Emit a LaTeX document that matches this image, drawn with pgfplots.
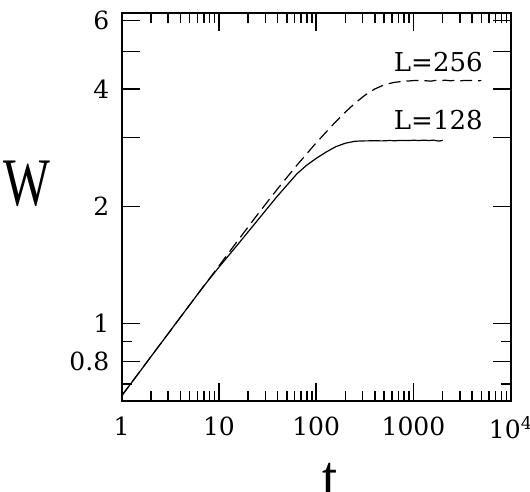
\documentclass[border=0pt]{standalone}
\usepackage{fontspec}
\usepackage{pgfplots}
\pgfplotsset{compat=1.18}
\newfontfamily\labfont{DejaVu Serif}
\newfontfamily\bigfont{Liberation Serif}

\begin{document}
\begin{tikzpicture}
\begin{axis}[
  at={(0pt,0pt)}, anchor=south west,
  scale only axis, width=389pt, height=388.3pt,
  xmode=log, ymode=log,
  xmin=1, xmax=10000, ymin=0.633, ymax=6.28,
  axis line style={line width=1.8pt},
  tick style={line width=1.5pt, black},
  major tick length=18pt, minor tick length=10pt,
  xtick={1,10,100,1000,10000},
  xticklabels={1,10,100,1000,10\textsuperscript{4}},
  minor xtick={2,3,4,5,6,7,8,9,20,30,40,50,60,70,80,90,200,300,400,500,600,700,800,900,2000,3000,4000,5000,6000,7000,8000,9000},
  ytick={0.8,1,2,3,4,5,6},
  yticklabels={0.8,1,2,,4,,6},
  minor ytick={0.7,0.9},
  tick label style={font=\labfont\fontsize{25}{29}\selectfont},
  xticklabel style={yshift=-12pt},
  yticklabel style={xshift=-9pt},
]
\addplot[black, line width=1.2pt] coordinates {
(1,0.653) (1.5,0.747) (2,0.823) (3,0.942) (4,1.037) (5,1.117) (7,1.249) (10,1.396)
(15.85,1.603) (25.12,1.845) (39.81,2.123) (63.1,2.421) (79.43,2.547) (100,2.655)
(125.9,2.754) (158.5,2.844) (199.5,2.904) (251.2,2.938) (316.2,2.944) (400,2.946)
(480,2.944) (560,2.95) (650,2.947) (750,2.953) (870,2.949) (1000,2.955) (1150,2.951)
(1300,2.957) (1450,2.95) (1600,2.958) (1750,2.945) (1850,2.94) (2000,2.955)
};
\addplot[black, line width=1.2pt, dash pattern=on 12pt off 6pt] coordinates {
(1,0.653) (1.5,0.747) (2,0.823) (3,0.942) (4,1.037) (5,1.117) (7,1.249) (10,1.406)
(15.85,1.641) (25.12,1.910) (39.81,2.213) (63.1,2.547) (100,2.911) (158.5,3.296)
(199.5,3.491) (251.2,3.681) (316.2,3.855) (398.1,3.999) (501.2,4.102) (631,4.159)
(794,4.188) (900,4.195) (1000,4.205) (1200,4.21) (1350,4.20) (1500,4.19) (1700,4.21)
(1900,4.20) (2100,4.215) (2400,4.20) (2700,4.21) (3000,4.195) (3400,4.21) (3800,4.205)
(4200,4.215) (4600,4.20) (5000,4.205)
};
\end{axis}
\node[anchor=center, inner sep=0pt] at (-94.7pt,217pt) {\bigfont\fontsize{68}{72}\selectfont\scalebox{0.73}[1]{W}};
\node[anchor=north, inner sep=0pt] at (208.3pt,-62pt) {\bigfont\fontsize{68}{72}\selectfont\scalebox{0.8}[1]{t}};
\node[anchor=center, inner sep=0pt] at (316.6pt,338.5pt) {\labfont\fontsize{26}{30}\selectfont L=256};
\node[anchor=center, inner sep=0pt] at (316.6pt,280.7pt) {\labfont\fontsize{26}{30}\selectfont L=128};
\pgfresetboundingbox
\useasboundingbox (-121.7pt,-91pt) rectangle (408.3pt,401pt);
\end{tikzpicture}
\end{document}
